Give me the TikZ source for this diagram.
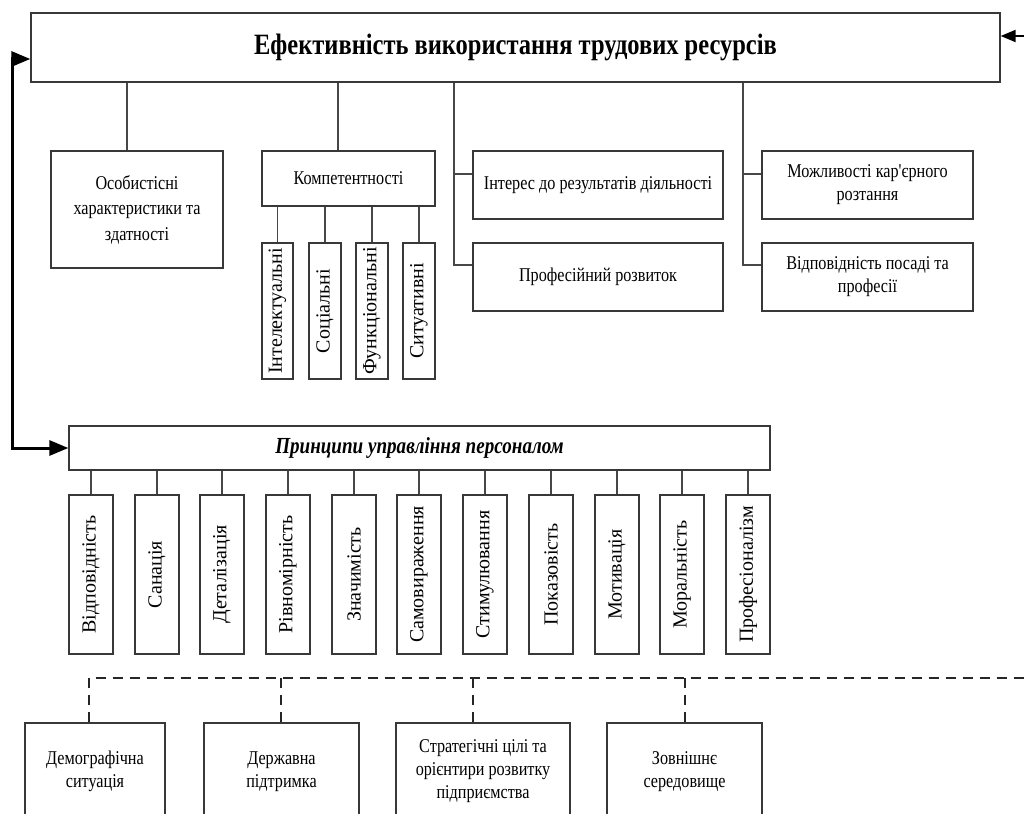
\documentclass[tikz,border=0pt]{standalone}
\usepackage{fontspec}
\usepackage{graphicx}
\setmainfont{Liberation Serif}[FakeStretch=0.83, Ligatures=TeXOff]
\newfontfamily\vfont{Liberation Serif}
\usetikzlibrary{arrows.meta}
\tikzset{
  box/.style={draw=black!78, line width=1.3pt, fill=white, inner sep=0pt, align=center,
    font=\fontsize{19.5}{23}\selectfont},
  vbox/.style={box, font=\vfont\fontsize{20}{23}\selectfont},
  conn/.style={draw=black!72, line width=1.4pt},
  dconn/.style={draw=black!85, line width=2pt, dash pattern=on 10pt off 7pt},
  bigarrow/.style={line width=3pt, {Triangle[length=19pt,width=15pt]}-{Triangle[length=19pt,width=15pt]}},
  smallarrow/.style={line width=2pt, -{Triangle[length=15pt,width=12pt]}},
}
\newcommand\bx[7][box]{\node[#1, minimum width={(#5-#3)*1pt}, minimum height={(#6-#4)*1pt}]
  (#2) at ({(#3+#5)/2},{(#4+#6)/2}) {#7};}
\begin{document}
\begin{tikzpicture}[x=1pt,y=-1pt]
\useasboundingbox (0,0) rectangle (1024,813);
\clip (0,0) rectangle (1024,813);
% top
\bx{top}{31}{13}{1000}{82}{\fontsize{29.5}{32}\selectfont\bfseries Ефективність використання трудових ресурсів}
% second level
\bx[box, font=\fontsize{19.5}{25.5}\selectfont]{os}{51}{151}{223}{268}{Особистісні\\характеристики та\\здатності}
\bx{komp}{262}{151}{435}{206}{Компетентності}
\bx[vbox]{int}{262}{243}{293}{379}{\rotatebox{90}{Інтелектуальні}}
\bx[vbox]{soc}{309}{243}{341}{379}{\rotatebox{90}{Соціальні}}
\bx[vbox]{fun}{356}{243}{388}{379}{\rotatebox{90}{Функціональні}}
\bx[vbox]{sit}{403}{243}{435}{379}{\rotatebox{90}{Ситуативні}}
\bx{inter}{473}{151}{723}{219}{Інтерес до результатів діяльності}
\bx{prof}{473}{243}{723}{311}{Професійний розвиток}
\bx{mozh}{762}{151}{973}{219}{Можливості кар'єрного\\розтання}
\bx{vidp}{762}{243}{973}{311}{Відповідність посаді та\\професії}
% principles
\bx{princ}{69}{426}{770}{470}{\fontsize{23}{26}\selectfont\bfseries\itshape Принципи управління персоналом}
\foreach \t [count=\i from 0] in {Відповідність,Санація,Деталізація,Рівномірність,Значимість,Самовираження,Стимулювання,Показовість,Мотивація,Моральність,Професіоналізм}{
  \pgfmathsetmacro\xa{round(69+\i*65.7)}
  \pgfmathsetmacro\xb{\xa+44}
  \bx[vbox]{p\i}{\xa}{495}{\xb}{654}{\rotatebox{90}{\t}}
  \draw[conn] (princ.south -| p\i.north) -- (p\i.north);
}
% bottom
\bx{dem}{25}{723}{165}{820}{Демографічна\\ситуація}
\bx{der}{204}{723}{359}{820}{Державна\\підтримка}
\bx{str}{396}{723}{570}{820}{Стратегічні цілі та\\орієнтири розвитку\\підприємства}
\bx{zov}{607}{723}{762}{820}{Зовнішнє\\середовище}
% helper coordinates
\coordinate (c1) at (127,0);
\coordinate (c2) at (338,0);
\coordinate (c3) at (454,0);
\coordinate (c4) at (743,0);
\coordinate (b1) at (0,174);
\coordinate (b2) at (0,265);
\coordinate (d1) at (89,678);
\coordinate (d2) at (281,678);
\coordinate (d3) at (473,678);
\coordinate (d4) at (685,678);
\coordinate (dend) at (1024,678);
\coordinate (rin) at (1024,36);
\coordinate (la) at (12,59);
\coordinate (lb) at (12,448);
% connectors
\draw[conn] (top.south -| c1) -- (os.north -| c1);
\draw[conn] (top.south -| c2) -- (komp.north -| c2);
\foreach \n in {int,soc,fun,sit}{\draw[conn] (komp.south -| \n.north) -- (\n.north);}
\draw[conn] (top.south -| c3) -- (c3 |- b2) -- (prof.west |- b2);
\draw[conn] (c3 |- b1) -- (inter.west |- b1);
\draw[conn] (top.south -| c4) -- (c4 |- b2) -- (vidp.west |- b2);
\draw[conn] (c4 |- b1) -- (mozh.west |- b1);
% dashed
\draw[dconn] (dem.north -| d1) -- (d1) -- (dend);
\draw[dconn] (d2) -- (der.north -| d2);
\draw[dconn] (d3) -- (str.north -| d3);
\draw[dconn] (d4) -- (zov.north -| d4);
% arrows
\draw[bigarrow] (top.west |- la) -- (la) -- (lb) -- (princ.west |- lb);
\draw[smallarrow] (rin) -- (top.east |- rin);
\end{tikzpicture}
\end{document}
